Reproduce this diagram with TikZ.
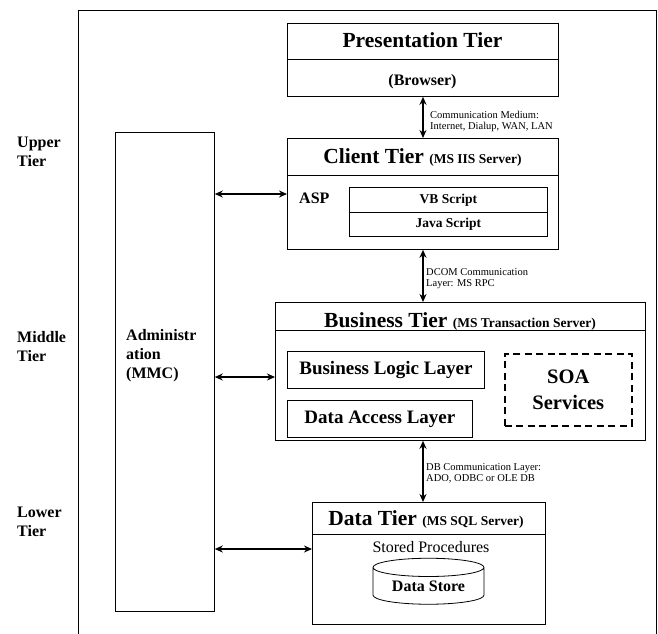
\documentclass[tikz,border=0pt]{standalone}
\usepackage{fontspec}
\setmainfont{Liberation Serif}
\usetikzlibrary{arrows.meta, positioning, shapes.geometric}
\tikzset{
    box/.style={draw, rectangle, anchor=north west, inner sep=0pt, line width=0.8pt}, % plain boxes
    link/.style={{Stealth[length=8pt,width=7pt]}-{Stealth[length=8pt,width=7pt]}, line width=1.8pt}, % two-way arrows
    tiertitle/.style={anchor=base, inner sep=0pt, font=\fontsize{21.5}{24}\selectfont\bfseries},
    tiernote/.style={anchor=west, inner sep=0pt, align=left, font=\fontsize{10.5}{11.5}\selectfont},
    layer/.style={inner sep=0pt, font=\fontsize{19}{22}\selectfont\bfseries},
    script/.style={inner sep=0pt, font=\fontsize{13.5}{16}\selectfont\bfseries},
    side/.style={anchor=north west, inner sep=0pt, align=left, font=\fontsize{16}{19}\selectfont\bfseries},
}
\newcommand{\servername}[1]{{\fontsize{13.5}{16}\selectfont #1}}

\begin{document}
\begin{tikzpicture}[x=1pt, y=-1pt]
    \useasboundingbox (0,0) rectangle (658,633);
    \draw[line width=0.8pt] (78,640) -- (78,10) -- (656,10) -- (656,640);

    % tier names on the left
    \node[side] (upper) at (17,137) {Upper\\Tier};
    \node[side] (middle) at (17,331) {Middle\\Tier};
    \node[side] (lower) at (17,507) {Lower\\Tier};

    % administration
    \node[box, minimum width=99pt, minimum height=479pt] (admin) at (115,132) {};
    \node[side] (adminText) at (126,329) {Administr\\ation\\(MMC)};

    % presentation tier
    \node[box, minimum width=271pt, minimum height=36pt] (presHead) at (287,23) {};
    \node[box, minimum width=271pt, minimum height=37pt] (presBody) at (287,59) {};
    \node[tiertitle] at (422.5,47) {Presentation Tier};
    \node[anchor=base, inner sep=0pt, font=\fontsize{16}{19}\selectfont\bfseries] at (422.5,85) {(Browser)};

    % client tier
    \node[box, minimum width=271pt, minimum height=37pt] (cliHead) at (287,138) {};
    \node[box, minimum width=271pt, minimum height=74pt] (cliBody) at (287,175) {};
    \node[tiertitle] at (422.5,163) {Client Tier \servername{(MS IIS Server)}};
    \node[anchor=base west, inner sep=0pt, font=\fontsize{16}{19}\selectfont\bfseries] (asp) at (299,203) {ASP};
    \node[box, minimum width=198pt, minimum height=25pt] (vbBox) at (349,187) {};
    \node[box, minimum width=198pt, minimum height=24pt] (jsBox) at (349,212) {};
    \node[script] at (vbBox) {VB Script};
    \node[script] at (jsBox) {Java Script};

    % business tier
    \node[box, minimum width=370pt, minimum height=28pt] (busHead) at (275,302) {};
    \node[box, minimum width=370pt, minimum height=110pt] (busBody) at (275,330) {};
    \node[tiertitle] at (460,327) {Business Tier \servername{(MS Transaction Server)}};
    \node[box, minimum width=197pt, minimum height=37pt] (logic) at (287,351) {};
    \node[box, minimum width=185pt, minimum height=37pt] (access) at (287,400) {};
    \node[layer] at (logic) {Business Logic Layer};
    \node[layer] at (access) {Data Access Layer};
    \node[box, dashed, dash pattern=on 7pt off 4.5pt, line width=1.5pt, minimum width=127pt, minimum height=72pt] (soa) at (504,353) {};
    \node[layer, align=center, font=\fontsize{20.5}{26}\selectfont\bfseries] at (soa) {SOA\\Services};

    % data tier
    \node[box, minimum width=233pt, minimum height=32pt] (dataHead) at (312,502) {};
    \node[box, minimum width=233pt, minimum height=90pt] (dataBody) at (312,534) {};
    \node[tiertitle] at (426,525) {Data Tier \servername{(MS SQL Server)}};
    \node[inner sep=0pt, font=\fontsize{16}{19}\selectfont] (stored) at (431,547) {Stored Procedures};
    \node[draw, cylinder, shape border rotate=90, aspect=0.25, line width=0.8pt,
          minimum width=111pt, minimum height=46pt, inner sep=0pt,
          font=\fontsize{16}{19}\selectfont\bfseries] (store) at (428.5,586) {Data Store};

    % links between tiers
    \coordinate (midX) at (423,0);
    \draw[link] (presBody.south -| midX) -- (cliHead.north -| midX);
    \draw[link] (cliBody.south -| midX) -- (busHead.north -| midX);
    \draw[link] (busBody.south -| midX) -- (dataHead.north -| midX);
    \node[tiernote] at (430,121.5) {Communication Medium:\\Internet, Dialup, WAN, LAN};
    \node[tiernote] at (426,278.5) {DCOM Communication\\Layer: MS RPC};
    \node[tiernote] at (426,473.5) {DB Communication Layer:\\ADO, ODBC or OLE DB};

    % links from administration
    \coordinate (toClient) at (0,194);
    \coordinate (toBusiness) at (0,377);
    \coordinate (toData) at (0,549);
    \draw[link] (admin.east |- toClient) -- (cliBody.west |- toClient);
    \draw[link] (admin.east |- toBusiness) -- (busBody.west |- toBusiness);
    \draw[link] (admin.east |- toData) -- (dataBody.west |- toData);
\end{tikzpicture}
\end{document}
